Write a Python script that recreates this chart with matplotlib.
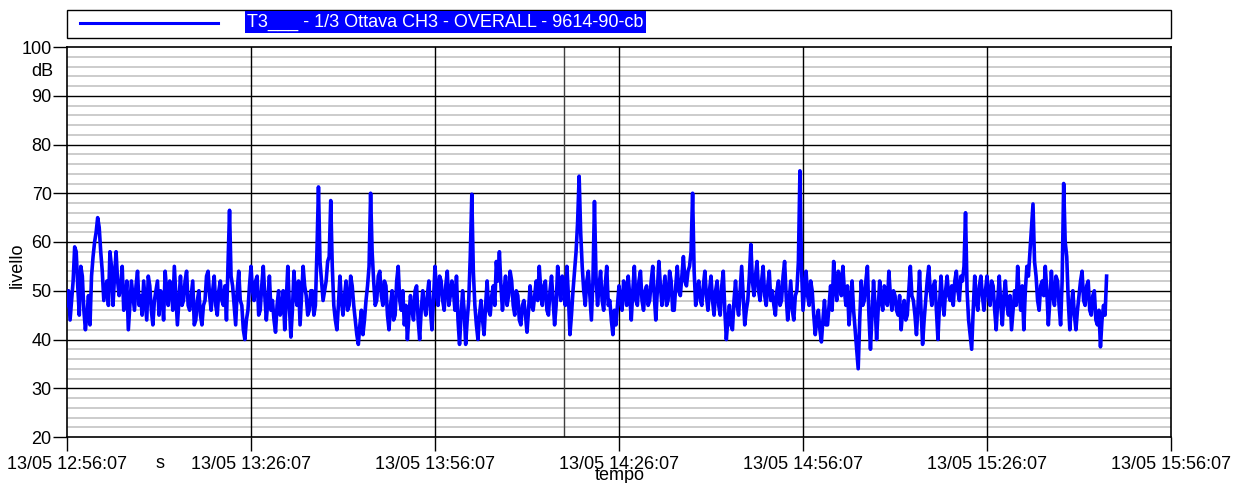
import matplotlib
matplotlib.use("Agg")
import matplotlib.pyplot as plt
import matplotlib.dates as mdates
from matplotlib.patches import Rectangle
from matplotlib.lines import Line2D
import pandas as pd

plt.rcParams["font.family"] = ["Liberation Sans", "DejaVu Sans"]

# overall level, one reading every 15 s from 12:56:07
start = "2023-05-13 12:56:07"
levels = [
    47, 50, 44, 48, 52, 59, 58, 51, 45, 55, 53, 46, 42, 45, 49, 43, 53, 57, 60, 62,
    65, 63, 58, 54, 48, 50, 52, 47, 58, 55, 47, 53, 58, 52, 49, 51, 55, 46, 48, 52,
    42, 47, 52, 49, 46, 51, 54, 47, 49, 45, 52, 48, 44, 53, 51, 46, 43, 48, 50, 52,
    45, 50, 49, 44, 54, 50, 47, 52, 51, 46, 55, 49, 43, 48, 53, 47, 48, 52, 54, 47,
    46, 49, 52, 43, 44, 48, 50, 45, 43, 47, 48, 53, 54, 49, 46, 50, 53, 47, 45, 50,
    52, 48, 47, 51, 44, 55, 66.5, 53, 51, 47, 43, 50, 54, 48, 47, 42, 40, 44, 46, 51,
    55, 50, 48, 52, 53, 45, 46, 51, 55, 49, 44, 48, 53, 46, 48, 44, 41.5, 47, 50, 45,
    46, 50, 42, 48, 55, 47, 40.5, 46, 54, 49, 47, 52, 43, 49, 55, 51, 49, 45, 46, 50,
    50, 45, 47, 58, 71.3, 56, 52, 48, 50, 52, 56, 57, 68.5, 55, 47, 44, 42, 47, 53, 48,
    45, 49, 52, 46, 47, 53, 51, 47, 44, 41, 39, 43, 46, 41, 44, 48, 51, 55, 70, 58,
    52, 47, 48, 53, 54, 49, 47, 52, 51, 45, 42, 47, 50, 44, 45, 52, 55, 48, 46, 50,
    43, 47, 40, 45, 49, 46, 44, 50, 51, 44, 40, 46, 50, 47, 45, 49, 52, 46, 42, 48,
    55, 50, 47, 53, 52, 48, 46, 51, 54, 47, 49, 52, 50, 46, 53, 44, 39, 45, 50, 46,
    39, 44, 48, 57, 69.8, 54, 47, 43, 40, 45, 48, 44, 41, 47, 52, 46, 45, 49, 51, 47,
    56, 52, 58, 51, 46, 50, 53, 47, 49, 54, 52, 47, 45, 50, 49, 44, 43, 47, 48, 45,
    41.5, 46, 51, 47, 46, 49, 52, 48, 55, 50, 47, 51, 52, 46, 45, 50, 53, 48, 43, 47,
    55, 51, 48, 53, 52, 47, 55, 49, 41, 45, 50, 54, 58, 64, 73.5, 62, 55, 50, 47, 52,
    54, 49, 44, 52, 68.3, 53, 47, 51, 54, 48, 46, 51, 55, 47, 48, 44, 41, 46, 43, 47,
    51, 48, 46, 52, 50, 47, 53, 49, 44, 50, 55, 48, 47, 52, 54, 48, 46, 50, 51, 47,
    48, 52, 55, 49, 44, 50, 56, 51, 47, 50, 53, 47, 48, 54, 52, 46, 46, 51, 55, 50,
    49, 53, 57, 52, 51, 54, 55, 58, 70, 54, 47, 50, 52, 48, 47, 51, 54, 49, 46, 50,
    53, 48, 45, 50, 52, 47, 45, 51, 54, 46, 40, 44, 47, 43, 42, 48, 52, 47, 45, 50,
    55, 49, 43, 46, 48, 53, 59.5, 52, 49, 53, 56, 50, 48, 52, 55, 49, 47, 51, 54, 48,
    50, 47, 45, 50, 52, 47, 48, 53, 56, 49, 44, 48, 52, 46, 44, 49, 50, 56, 74.6, 55,
    46, 50, 54, 49, 47, 52, 50, 45, 41, 44, 46, 42, 39.5, 44, 48, 43, 43, 47, 51, 46,
    56, 51, 48, 54, 53, 49, 55, 50, 47, 51, 43, 47, 52, 46, 42, 38, 34, 44, 52, 47,
    48, 52, 55, 45, 38, 45, 52, 47, 40, 46, 52, 48, 46, 51, 50, 47, 54, 49, 46, 50,
    49, 46, 45, 49, 42, 46, 48, 44, 45, 50, 55, 49, 48, 45, 41, 47, 54, 46, 39, 44,
    48, 52, 55, 50, 47, 51, 52, 46, 40, 47, 53, 48, 45, 50, 53, 49, 48, 51, 47, 52,
    54, 50, 48, 53, 52, 55, 66, 50, 44, 41, 38, 46, 53, 48, 46, 51, 53, 49, 46, 50,
    53, 49, 47, 52, 51, 46, 42, 48, 53, 47, 43, 49, 52, 47, 45, 49, 42, 46, 50, 47,
    55, 49, 46, 51, 42, 50, 55, 53, 58, 63, 67.8, 56, 53, 48, 46, 51, 52, 49, 55, 50,
    43, 48, 54, 49, 47, 53, 52, 47, 43, 52, 72, 60, 57, 48, 42, 47, 50, 45, 42, 46,
    49, 52, 54, 48, 47, 51, 52, 46, 45, 49, 50, 44, 43, 46, 38.5, 44, 47, 45, 53,
]
times = pd.date_range(start, periods=len(levels), freq="15s")

t0 = pd.Timestamp(start)
t_end = t0 + pd.Timedelta(hours=3)
marker_time = pd.Timestamp("2023-05-13 14:17:07")

fig = plt.figure(figsize=(12.39, 4.83), dpi=100)
ax = fig.add_axes([67 / 1239, 1 - 437 / 483, (1171 - 67) / 1239, (437 - 47) / 483])

# grid: light minor lines every 2 dB, black major lines
for v in range(22, 100, 2):
    if v % 10:
        ax.axhline(v, color="#cccccc", lw=1.4, zorder=1)
for v in range(30, 100, 10):
    ax.axhline(v, color="black", lw=1.0, zorder=1)
major_times = pd.date_range(t0, t_end, freq="30min")
for t in major_times[1:-1]:
    ax.axvline(t, color="black", lw=1.0, zorder=1)
ax.axvline(marker_time, color="#404040", lw=1.0, zorder=1)

ax.plot(times, levels, color="#0000ff", lw=2.6, zorder=3)

ax.set_xlim(t0, t_end)
ax.set_ylim(20, 100)
ax.set_yticks(range(20, 101, 10))
ax.set_xticks(major_times)
ax.xaxis.set_major_formatter(mdates.DateFormatter("%d/%m %H:%M:%S"))
ax.tick_params(axis="both", direction="out", length=10, width=1, labelsize=13, pad=1)
ax.tick_params(axis="x", pad=4)
for s in ax.spines.values():
    s.set_linewidth(1.2)

ax.text(-0.012, 95, "dB", transform=ax.get_yaxis_transform(), ha="right", va="center", fontsize=13)
fig.text(17 / 1239, 1 - 265 / 483, "livello", rotation=90, ha="center", va="center", fontsize=13)
fig.text(620 / 1239, 1 - 475 / 483, "tempo", ha="center", va="center", fontsize=13)
fig.text(160 / 1239, 1 - 463 / 483, "s", ha="center", va="center", fontsize=13)

# legend frame above the plot
fig.patches.append(Rectangle((67 / 1239, 1 - 38 / 483), (1171 - 67) / 1239, 28 / 483,
                             transform=fig.transFigure, fill=False, edgecolor="black", lw=1.0))
fig.lines.append(Line2D([80 / 1239, 218 / 1239], [1 - 23 / 483] * 2,
                        transform=fig.transFigure, color="#0000ff", lw=2.2))
fig.text(247 / 1239, 1 - 22 / 483, "T3___ - 1/3 Ottava CH3 - OVERALL - 9614-90-cb",
         ha="left", va="center", fontsize=13, color="white",
         bbox=dict(boxstyle="square,pad=0.12", facecolor="#0000ff", edgecolor="none"))

fig.savefig("out.png", dpi=100)
